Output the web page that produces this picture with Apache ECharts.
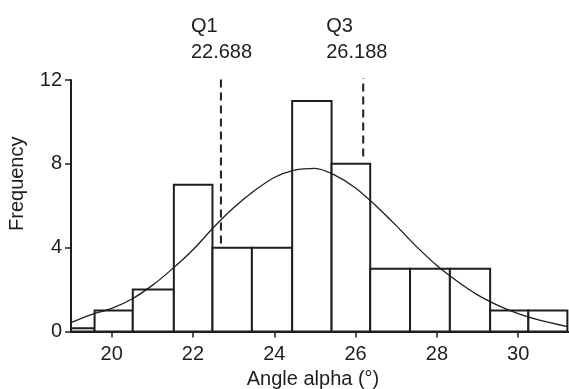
<!DOCTYPE html>
<html>
<head>
<meta charset="utf-8">
<script src="https://cdn.jsdelivr.net/npm/echarts@6/dist/echarts.min.js"></script>
<style>
  html, body { margin: 0; padding: 0; background: #fff; }
  #chart { width: 569px; height: 389px; }
</style>
</head>
<body>
<div id="chart"></div>
<script>
// histogram bins (left edge, right edge) and counts
const binStart = [18.61, 19.58, 20.52, 21.53, 22.48, 23.45, 24.44, 25.41, 26.36, 27.34, 28.32, 29.31, 30.25]
const binEnd = [19.58, 20.52, 21.53, 22.48, 23.45, 24.44, 25.41, 26.36, 27.34, 28.32, 29.31, 30.25, 31.21]
const counts = [0.15, 1, 2, 7, 4, 4, 11, 8, 3, 3, 3, 1, 1]

// fitted curve
const curveX = [19.0, 19.5, 20.0, 20.5, 21.0, 21.5, 22.0, 22.5, 23.0, 23.5, 24.0, 24.5, 25.0, 25.5, 26.0, 26.5, 27.0, 27.5, 28.0, 28.5, 29.0, 29.5, 30.0, 30.5, 31.21]
const curveY = [0.42, 0.8, 1.1, 1.55, 2.2, 3.0, 3.9, 4.95, 5.9, 6.7, 7.35, 7.7, 7.78, 7.45, 6.85, 6.0, 5.05, 4.05, 3.15, 2.4, 1.75, 1.25, 0.85, 0.55, 0.23]

// quartiles
const qNames = ['Q1', 'Q3']
const qValues = [22.688, 26.188]
const qLineBottom = [4.2, 8.35]
const qLineTop = 12.1

const xTicks = [20, 22, 24, 26, 28, 30]

const ink = '#1e1e1e'
const font = 'Liberation Sans, Arial, Helvetica, sans-serif'

const chart = echarts.init(document.getElementById('chart'))

const histData = binStart.map((s, i) => [s, binEnd[i], counts[i]])

const quartileSeries = qValues.map((q, i) => ({
  type: 'line',
  data: [[q, qLineBottom[i]], [q, qLineTop]],
  symbol: 'none',
  clip: false,
  silent: true,
  z: 5,
  lineStyle: { color: ink, width: 2, type: [8, 5] }
}))

const labelOffsets = [[-30, -7], [-37, -7]]

const option = {
  backgroundColor: '#fff',
  animation: false,
  grid: { left: 71, right: 0, top: 80, bottom: 57.5, outerBoundsMode: 'none', containLabel: false },
  xAxis: {
    type: 'value',
    min: 19,
    max: 31.25,
    name: 'Angle alpha (°)',
    nameLocation: 'middle',
    nameGap: 36,
    nameTextStyle: { color: ink, fontSize: 20, fontFamily: font, padding: [0, 14, 0, 0] },
    axisLine: { show: true, lineStyle: { color: ink, width: 2 } },
    axisTick: { show: true, length: 6, lineStyle: { color: ink, width: 1.5 }, customValues: xTicks },
    axisLabel: { color: ink, fontSize: 20, fontFamily: font, margin: 13, customValues: xTicks },
    splitLine: { show: false }
  },
  yAxis: {
    type: 'value',
    min: 0,
    max: 12,
    interval: 4,
    name: 'Frequency',
    nameLocation: 'middle',
    nameGap: 44,
    nameTextStyle: { color: ink, fontSize: 20, fontFamily: font, padding: [0, 0, 0, 44] },
    axisLine: { show: true, lineStyle: { color: ink, width: 2 } },
    axisTick: { show: true, length: 6, lineStyle: { color: ink, width: 1.5 } },
    axisLabel: { color: ink, fontSize: 20, fontFamily: font, margin: 9 },
    splitLine: { show: false }
  },
  series: [
    {
      type: 'custom',
      data: histData,
      z: 2,
      renderItem: function(params, api) {
        const p0 = api.coord([api.value(0), 0])
        const p1 = api.coord([api.value(1), api.value(2)])
        const shape = echarts.graphic.clipRectByRect(
          { x: p0[0], y: p1[1], width: p1[0] - p0[0], height: p0[1] - p1[1] },
          { x: params.coordSys.x, y: params.coordSys.y - 2, width: params.coordSys.width + 2, height: params.coordSys.height + 2 }
        )
        return shape && {
          type: 'rect',
          shape: shape,
          style: { fill: '#fff', stroke: ink, lineWidth: 2 }
        }
      }
    },
    {
      type: 'line',
      data: curveX.map((x, i) => [x, curveY[i]]),
      smooth: 0.3,
      symbol: 'none',
      z: 4,
      lineStyle: { color: ink, width: 1.3 }
    },
    ...quartileSeries,
    {
      type: 'scatter',
      symbol: 'circle',
      symbolSize: 0,
      clip: false,
      silent: true,
      z: 6,
      itemStyle: { color: ink, opacity: 1 },
      data: qValues.map((q, i) => ({
        value: [q, qLineTop],
        label: {
          show: true,
          position: 'top',
          align: 'left',
          offset: labelOffsets[i],
          formatter: qNames[i] + '\n' + q.toFixed(3),
          color: ink,
          opacity: 1,
          fontSize: 20,
          fontFamily: font,
          lineHeight: 26
        }
      }))
    }
  ]
}

chart.setOption(option)
</script>
</body>
</html>
